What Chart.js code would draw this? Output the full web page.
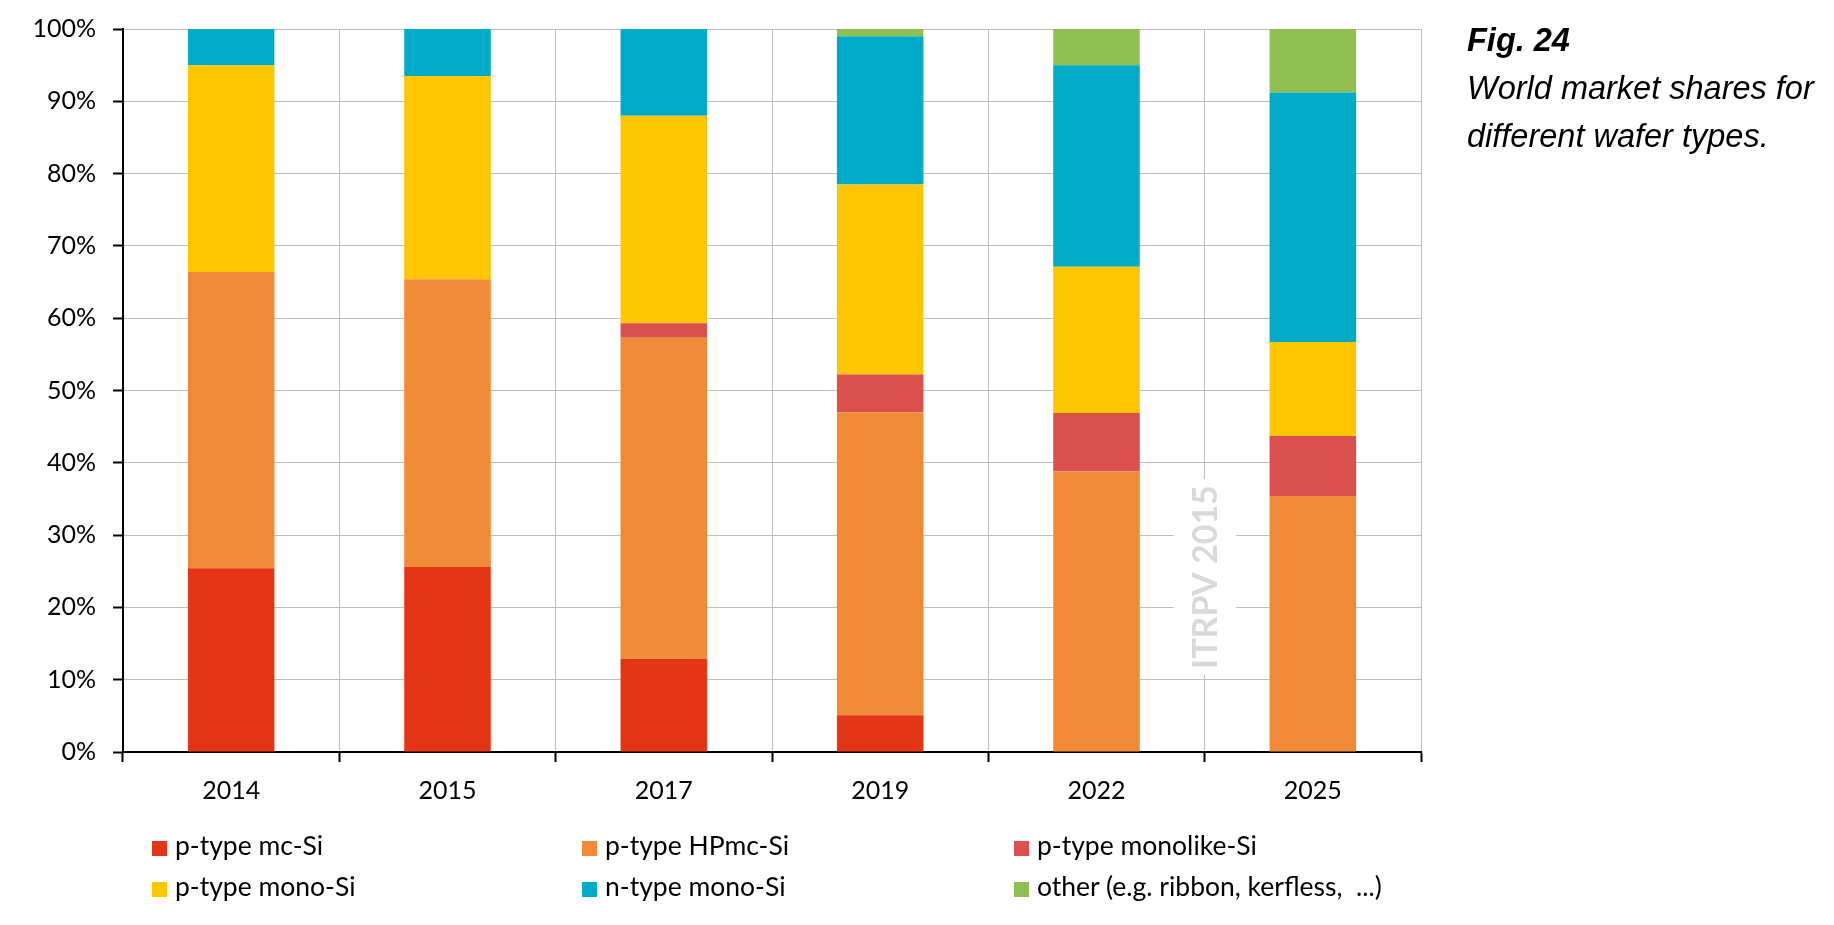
<!DOCTYPE html>
<html>
<head>
<meta charset="utf-8">
<script src="https://cdn.jsdelivr.net/npm/chart.js@4"></script>
<style>
  body { margin: 0; background: #fff; }
  #wrap { position: relative; width: 1834px; height: 925px; overflow: hidden; }
  #caption { position: absolute; left: 1467px; top: 16px; font-family: "Liberation Sans", Arial, sans-serif; font-size: 32.5px; font-style: italic; color: #000; line-height: 48px; }
  #caption b { font-weight: bold; }
  .leg { position: absolute; font-family: Lato, sans-serif; font-size: 26.5px; color: #000; white-space: pre; line-height: 30px; }
  .leg span { display: inline-block; width: 15px; height: 15px; margin-right: 8px; vertical-align: -1px; }
</style>
</head>
<body>
<div id="wrap">
  <canvas id="canvas1" width="1834" height="925"></canvas>
  <div id="caption"><b>Fig. 24</b><br>World market shares for<br>different wafer types.</div>
  <div id="legend"></div>
</div>
<script>
// market shares in %
var years = ['2014', '2015', '2017', '2019', '2022', '2025'];
var mcSi = [25.4, 25.6, 12.9, 5.1, 0, 0];
var hpmcSi = [41.0, 39.8, 44.4, 41.9, 38.8, 35.4];
var monolikeSi = [0, 0, 2.0, 5.2, 8.1, 8.3];
var pMonoSi = [28.6, 28.1, 28.7, 26.3, 20.2, 13.0];
var nMonoSi = [5.0, 6.5, 12.0, 20.5, 27.9, 34.5];
var other = [0, 0, 0, 1.0, 5.0, 8.8];

var names = ['p-type mc-Si', 'p-type HPmc-Si', 'p-type monolike-Si', 'p-type mono-Si', 'n-type mono-Si', 'other (e.g. ribbon, kerfless,  ...)'];
var colors = ['#E53517', '#F18A37', '#DB4F4C', '#FDC600', '#00ABC7', '#8FBE52'];
var series = [mcSi, hpmcSi, monolikeSi, pMonoSi, nMonoSi, other];

var datasets = [];
for (var i = 0; i < series.length; i++) {
    datasets.push({
        label: names[i],
        data: series[i],
        backgroundColor: colors[i],
        borderWidth: 0,
        barPercentage: 1.0,
        categoryPercentage: 0.4
    });
}

// grey "ITRPV 2015" stamp between 2022 and 2025
var watermark = {
    id: 'watermark',
    beforeDatasetsDraw: function(chart) {
        var ctx = chart.ctx;
        var x = chart.scales.x;
        var y = chart.scales.y;
        var cx = (x.getPixelForValue(4) + x.getPixelForValue(5)) / 2;
        var cy = y.getPixelForValue(24.2);
        ctx.save();
        ctx.fillStyle = '#fff';
        ctx.fillRect(cx - 31, cy - 98, 62, 196);
        ctx.translate(cx, cy);
        ctx.rotate(-Math.PI / 2);
        ctx.font = 'bold 34px Lato';
        ctx.fillStyle = '#d9d9d9';
        ctx.textAlign = 'center';
        ctx.textBaseline = 'middle';
        ctx.fillText('ITRPV 2015', 0, 1);
        ctx.restore();
    }
};

var ctx = document.getElementById('canvas1');
var barGraph = new Chart(ctx, {
    type: 'bar',
    data: { labels: years, datasets: datasets },
    plugins: [watermark],
    options: {
        responsive: false,
        animation: false,
        devicePixelRatio: 1,
        layout: { padding: { left: 0, top: 29, right: 413, bottom: 0 } },
        plugins: { legend: { display: false }, tooltip: { enabled: true } },
        scales: {
            x: {
                stacked: true,
                offset: true,
                afterFit: function(scale) { scale.height = 173; },
                grid: { offset: true, color: '#bfbfbf', lineWidth: 1, tickColor: '#000', tickLength: 10, tickWidth: 2 },
                border: { color: '#000', width: 2 },
                ticks: { color: '#000', font: { family: 'Lato', size: 25 }, padding: 14 }
            },
            y: {
                stacked: true,
                min: 0,
                max: 100,
                afterFit: function(scale) {
                    scale.width = 123;
                    scale.paddingTop = 0;
                    scale.paddingBottom = 0;
                },
                grid: { color: '#bfbfbf', lineWidth: 1, tickColor: '#000', tickLength: 10, tickWidth: 2 },
                border: { color: '#000', width: 2 },
                ticks: {
                    stepSize: 10,
                    color: '#000',
                    font: { family: 'Lato', size: 25 },
                    padding: 17,
                    callback: function(v) { return v + '%'; }
                }
            }
        }
    }
});

// legend in three columns, two rows, like the original
var legendX = [152, 582, 1014];
var legendY = [830, 871];
var legend = document.getElementById('legend');
barGraph.data.datasets.forEach(function(ds, i) {
    var d = document.createElement('div');
    d.className = 'leg';
    d.style.left = legendX[i % 3] + 'px';
    d.style.top = legendY[Math.floor(i / 3)] + 'px';
    d.innerHTML = '<span style="background:' + ds.backgroundColor + '"></span>' + ds.label;
    legend.appendChild(d);
});
</script>
</body>
</html>
